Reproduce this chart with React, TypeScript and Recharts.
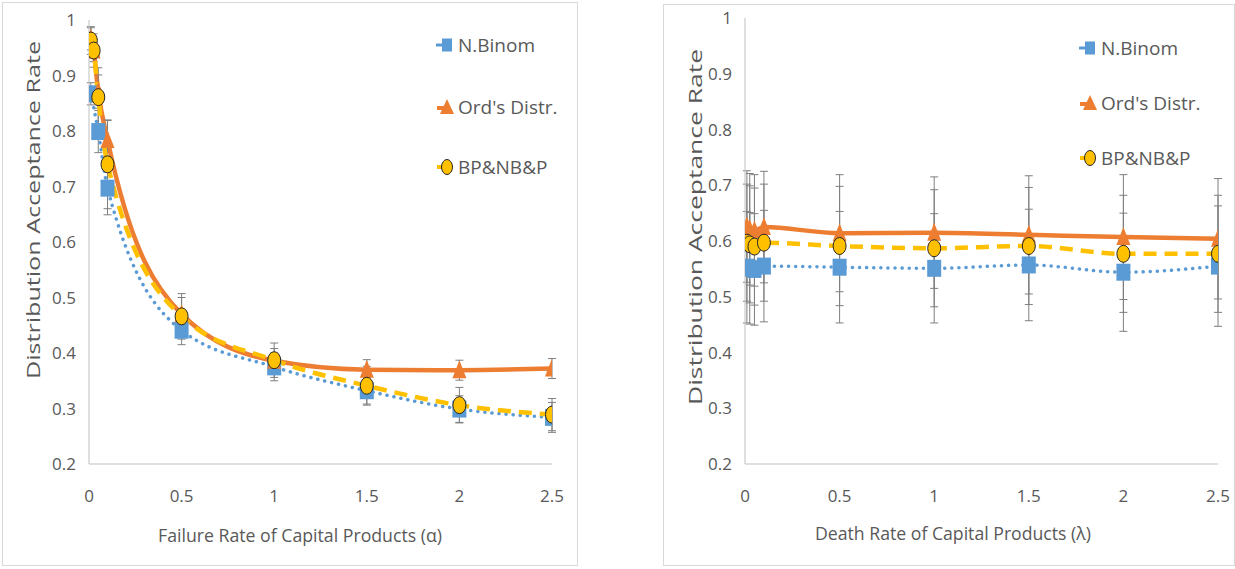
import React from 'react';
import { LineChart, Line, XAxis, YAxis, ErrorBar } from 'recharts';

// Shared x positions (rate values) for both panels
const rates = [0.01, 0.025, 0.05, 0.1, 0.5, 1, 1.5, 2, 2.5];
const xTicks = [0, 0.5, 1, 1.5, 2, 2.5];
const yTicks = [0.2, 0.3, 0.4, 0.5, 0.6, 0.7, 0.8, 0.9, 1];

// Panel 1: failure rate of capital products (alpha)
const failNBinom = [0.867, null, 0.799, 0.697, 0.441, 0.375, 0.332, 0.299, 0.284];
const failNBinomErr = [0.02, null, 0.038, 0.048, 0.026, 0.025, 0.024, 0.024, 0.027];
const failOrd = [0.966, 0.945, 0.871, 0.784, 0.47, 0.386, 0.37, 0.369, 0.372];
const failOrdErr = [0.02, 0.02, 0.03, 0.035, 0.03, 0.022, 0.018, 0.018, 0.018];
const failBP = [0.963, 0.945, 0.861, 0.74, 0.466, 0.387, 0.341, 0.306, 0.289];
const failBPErr = [0.025, 0.03, 0.053, 0.08, 0.041, 0.031, 0.035, 0.032, 0.029];

// Panel 2: death rate of capital products (lambda)
const deathNBinom = [0.553, 0.551, 0.549, 0.555, 0.553, 0.551, 0.557, 0.544, 0.555];
const deathNBinomErr = [0.1, 0.1, 0.1, 0.1, 0.1, 0.098, 0.1, 0.106, 0.108];
const deathOrd = [0.626, 0.621, 0.619, 0.625, 0.614, 0.615, 0.611, 0.607, 0.604];
const deathOrdErr = [0.1, 0.1, 0.1, 0.1, 0.105, 0.1, 0.106, 0.112, 0.108];
const deathBP = [0.597, 0.594, 0.59, 0.597, 0.591, 0.587, 0.591, 0.577, 0.577];
const deathBPErr = [0.105, 0.105, 0.105, 0.105, 0.107, 0.105, 0.105, 0.105, 0.105];

const seriesNames = ['N.Binom', "Ord's Distr.", 'BP&NB&P'];

const BLUE = '#5B9BD5';
const ORANGE = '#ED7D31';
const YELLOW = '#FFC000';
const TEXT = '#595959';
const AXIS = '#BFBFBF';
const ERR = '#7F7F7F';
const FONT = "'Liberation Sans Narrow', 'Open Sans', sans-serif";

const buildRows = (
  nb: (number | null)[], nbErr: (number | null)[],
  ord: number[], ordErr: number[],
  bp: number[], bpErr: number[]
) =>
  rates.map((x, i) => ({
    x,
    nb: nb[i],
    nbErr: nbErr[i],
    ord: ord[i],
    ordErr: ordErr[i],
    bp: bp[i],
    bpErr: bpErr[i],
  }));

const failRows = buildRows(failNBinom, failNBinomErr, failOrd, failOrdErr, failBP, failBPErr);
const deathRows = buildRows(deathNBinom, deathNBinomErr, deathOrd, deathOrdErr, deathBP, deathBPErr);

const SquareDot = (p: any) => {
  if (p.cx == null || p.cy == null || p.value == null) return <g key={`s${p.index}`} />;
  return <rect key={`s${p.index}`} x={p.cx - 7} y={p.cy - 8.5} width={14} height={17} fill={BLUE} />;
};

const TriangleDot = (p: any) => {
  if (p.cx == null || p.cy == null) return <g key={`t${p.index}`} />;
  const { cx, cy } = p;
  return (
    <polygon
      key={`t${p.index}`}
      points={`${cx},${cy - 10} ${cx - 7},${cy + 8} ${cx + 7},${cy + 8}`}
      fill={ORANGE}
    />
  );
};

const CircleDot = (p: any) => {
  if (p.cx == null || p.cy == null) return <g key={`c${p.index}`} />;
  return (
    <ellipse key={`c${p.index}`} cx={p.cx} cy={p.cy} rx={6.5} ry={8.5} fill={YELLOW} stroke="#262626" strokeWidth={1} />
  );
};

const tickStyle = { fill: TEXT, fontSize: 17, fontFamily: FONT };

type PanelProps = {
  rows: any[];
  left: number;
  width: number;
  margin: { top: number; right: number; bottom: number; left: number };
  xTitle: string;
  xTitlePos: [number, number];
  xTitleLen: number;
  yTitlePos: [number, number];
  yTitleLen: number;
};

const Panel = ({ rows, left, width, margin, xTitle, xTitlePos, xTitleLen, yTitlePos, yTitleLen }: PanelProps) => (
  <div style={{ position: 'absolute', left, top: 2 }}>
    <LineChart width={width} height={563} data={rows} margin={margin}>
      <XAxis
        dataKey="x"
        type="number"
        domain={[0, 2.5]}
        ticks={xTicks}
        allowDataOverflow
        height={101}
        stroke={AXIS}
        tickLine={false}
        tickSize={0}
        tickMargin={26}
        tick={tickStyle}
        label={() => (
          <text
            x={xTitlePos[0]}
            y={xTitlePos[1]}
            textAnchor="middle"
            dominantBaseline="middle"
            fill={TEXT}
            fontSize={19}
            fontFamily={FONT}
            textLength={xTitleLen}
            lengthAdjust="spacingAndGlyphs"
          >
            {xTitle}
          </text>
        )}
      />
      <YAxis
        type="number"
        domain={[0.2, 1]}
        ticks={yTicks}
        allowDataOverflow
        width={70}
        stroke={AXIS}
        tickLine={false}
        tickSize={0}
        tickMargin={13}
        tick={tickStyle}
        label={() => (
          <text
            x={yTitlePos[0]}
            y={yTitlePos[1]}
            textAnchor="middle"
            dominantBaseline="middle"
            fill={TEXT}
            fontSize={19}
            fontFamily={FONT}
            textLength={yTitleLen}
            lengthAdjust="spacingAndGlyphs"
            transform={`rotate(-90 ${yTitlePos[0]} ${yTitlePos[1]})`}
          >
            Distribution Acceptance Rate
          </text>
        )}
      />
      <Line
        dataKey="nb"
        name={seriesNames[0]}
        type="monotone"
        stroke={BLUE}
        strokeWidth={3.5}
        strokeDasharray="0.1 7"
        strokeLinecap="round"
        connectNulls
        dot={SquareDot}
        isAnimationActive={false}
      >
        <ErrorBar dataKey="nbErr" width={4} stroke={ERR} strokeWidth={1} direction="y" />
      </Line>
      <Line
        dataKey="ord"
        name={seriesNames[1]}
        type="monotone"
        stroke={ORANGE}
        strokeWidth={4.5}
        dot={TriangleDot}
        isAnimationActive={false}
      >
        <ErrorBar dataKey="ordErr" width={4} stroke={ERR} strokeWidth={1} direction="y" />
      </Line>
      <Line
        dataKey="bp"
        name={seriesNames[2]}
        type="monotone"
        stroke={YELLOW}
        strokeWidth={4.5}
        strokeDasharray="13 8"
        dot={CircleDot}
        isAnimationActive={false}
      >
        <ErrorBar dataKey="bpErr" width={4} stroke={ERR} strokeWidth={1} direction="y" />
      </Line>
    </LineChart>
  </div>
);

const LegendIcon = ({ kind }: { kind: number }) => (
  <svg width={22} height={20} style={{ display: 'block' }}>
    {kind === 0 && (
      <>
        <line x1={1} y1={10} x2={8} y2={10} stroke={BLUE} strokeWidth={3} strokeLinecap="round" />
        <rect x={6} y={3.5} width={10} height={13} fill={BLUE} />
      </>
    )}
    {kind === 1 && (
      <>
        <line x1={1} y1={11} x2={10} y2={11} stroke={ORANGE} strokeWidth={4} />
        <polygon points="11,2 4,17 18,17" fill={ORANGE} />
      </>
    )}
    {kind === 2 && (
      <>
        <line x1={1} y1={10} x2={8} y2={10} stroke={YELLOW} strokeWidth={4} />
        <ellipse cx={11} cy={10} rx={5.5} ry={7.5} fill={YELLOW} stroke="#262626" strokeWidth={1} />
      </>
    )}
  </svg>
);

const LegendBlock = ({ left, tops }: { left: number; tops: number[] }) => (
  <>
    {seriesNames.map((name, i) => (
      <div
        key={name}
        style={{
          position: 'absolute',
          left,
          top: tops[i] - 11,
          height: 22,
          display: 'flex',
          alignItems: 'center',
          fontFamily: FONT,
          fontSize: 19,
          color: TEXT,
          whiteSpace: 'nowrap',
        }}
      >
        <LegendIcon kind={i} />
        <span>{name}</span>
      </div>
    ))}
  </>
);

const Frame = ({ left, top, width, height }: { left: number; top: number; width: number; height: number }) => (
  <div
    style={{
      position: 'absolute',
      left,
      top,
      width,
      height,
      border: '1px solid #D9D9D9',
      boxSizing: 'border-box',
      pointerEvents: 'none',
    }}
  />
);

export default function App() {
  return (
    <div style={{ position: 'absolute', left: 0, top: 0, width: 1235, height: 569, background: '#fff', overflow: 'hidden' }}>
      <Frame left={2} top={2} width={576} height={564} />
      <Frame left={663} top={4} width={572} height={562} />
      <Panel
        rows={failRows}
        left={2}
        width={576}
        margin={{ top: 18, right: 26, bottom: 0, left: 17 }}
        xTitle="Failure Rate of Capital Products (α)"
        xTitlePos={[298, 535]}
        xTitleLen={284}
        yTitlePos={[33, 208]}
        yTitleLen={338}
      />
      <Panel
        rows={deathRows}
        left={663}
        width={570}
        margin={{ top: 16, right: 15, bottom: 0, left: 12 }}
        xTitle="Death Rate of Capital Products (λ)"
        xTitlePos={[290, 533]}
        xTitleLen={276}
        yTitlePos={[34, 225]}
        yTitleLen={356}
      />
      <LegendBlock left={436} tops={[45, 107, 167]} />
      <LegendBlock left={1079} tops={[48, 103, 158]} />
    </div>
  );
}
